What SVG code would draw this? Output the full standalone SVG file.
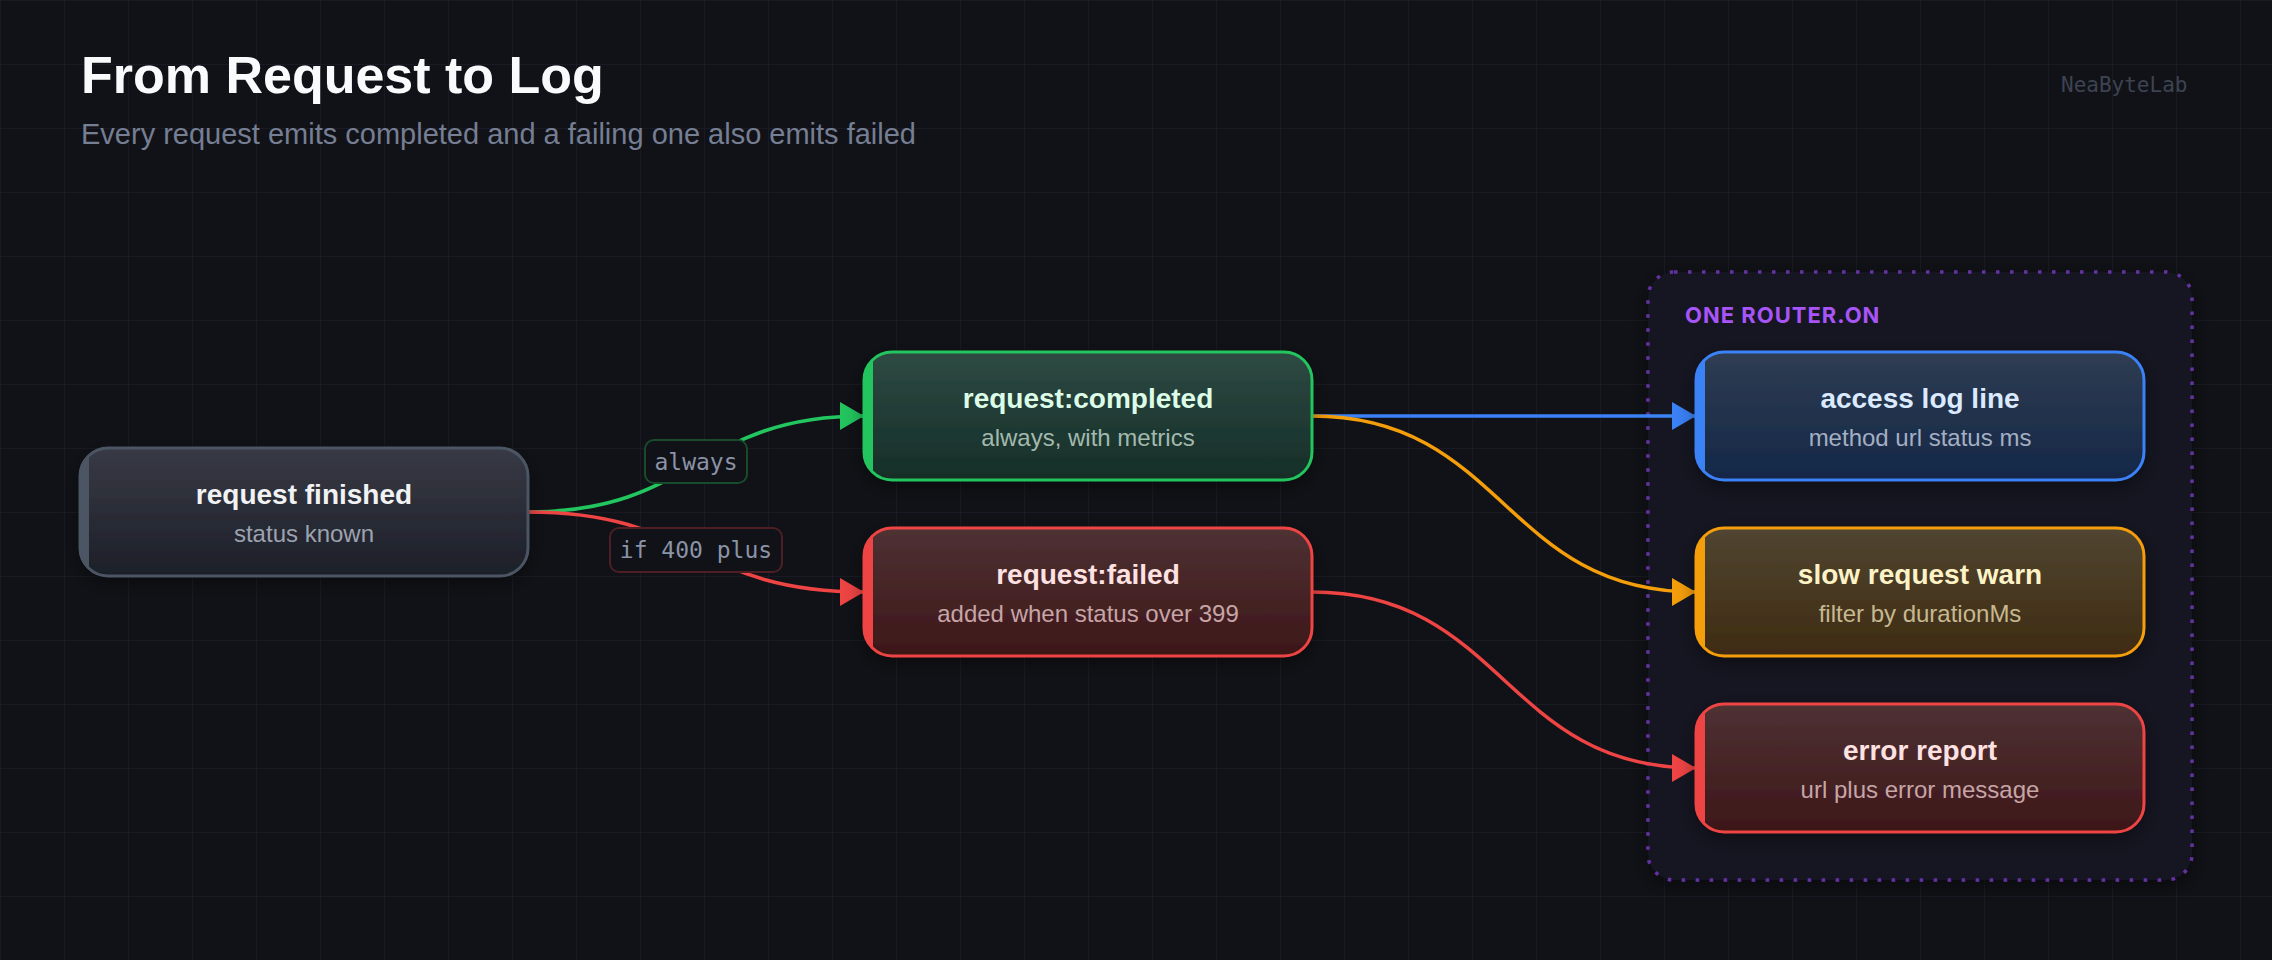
<svg xmlns="http://www.w3.org/2000/svg" width="2272" height="960" viewBox="0 0 2272 960">
<style>
.title{font-family:"Liberation Sans",Arial,sans-serif;font-weight:700;font-size:52px;fill:#f8fafc}
.subtitle{font-family:"Liberation Sans",Arial,sans-serif;font-size:29px;fill:#757e93}
.brand{font-family:"DejaVu Sans Mono",monospace;font-size:21px;fill:#3d4352}
.nt{font-family:"Liberation Sans",Arial,sans-serif;font-weight:700;font-size:28px;text-anchor:middle}
.ns{font-family:"Liberation Sans",Arial,sans-serif;font-size:24px;text-anchor:middle}
.el{font-family:"DejaVu Sans Mono",monospace;font-size:23px;fill:#8b93a7;text-anchor:middle}
.edge{fill:none;stroke-width:3.5}
.grp{font-family:"Inter","Liberation Sans",sans-serif;font-weight:700;font-size:22px;fill:#a855f7;letter-spacing:1px}
</style>
<defs>
<pattern id="grid" width="64" height="64" patternUnits="userSpaceOnUse">
<path d="M64 0 L0 0 0 64" fill="none" stroke="#1b1d26" stroke-width="1.5"/>
</pattern>
<linearGradient id="gGray" x1="0" y1="0" x2="0" y2="1"><stop offset="0" stop-color="#383a46"/><stop offset="1" stop-color="#1d1f28"/></linearGradient>
<linearGradient id="gGreen" x1="0" y1="0" x2="0" y2="1"><stop offset="0" stop-color="#2e4a43"/><stop offset="1" stop-color="#152e27"/></linearGradient>
<linearGradient id="gRed" x1="0" y1="0" x2="0" y2="1"><stop offset="0" stop-color="#4f3134"/><stop offset="1" stop-color="#3d1718"/></linearGradient>
<linearGradient id="gBlue" x1="0" y1="0" x2="0" y2="1"><stop offset="0" stop-color="#2f3d52"/><stop offset="1" stop-color="#142747"/></linearGradient>
<linearGradient id="gAmber" x1="0" y1="0" x2="0" y2="1"><stop offset="0" stop-color="#504531"/><stop offset="1" stop-color="#3e2b12"/></linearGradient>
<filter id="shadow" x="-20%" y="-30%" width="140%" height="160%">
<feDropShadow dx="0" dy="6" stdDeviation="10" flood-color="#000" flood-opacity="0.45"/>
</filter>
<marker id="aGreen" markerUnits="userSpaceOnUse" markerWidth="26" markerHeight="30" refX="24" refY="14" orient="auto"><path d="M0,0 L24,14 L0,28 z" fill="#22c55e"/></marker>
<marker id="aRed" markerUnits="userSpaceOnUse" markerWidth="26" markerHeight="30" refX="24" refY="14" orient="auto"><path d="M0,0 L24,14 L0,28 z" fill="#ef4444"/></marker>
<marker id="aBlue" markerUnits="userSpaceOnUse" markerWidth="26" markerHeight="30" refX="24" refY="14" orient="auto"><path d="M0,0 L24,14 L0,28 z" fill="#3b82f6"/></marker>
<marker id="aAmber" markerUnits="userSpaceOnUse" markerWidth="26" markerHeight="30" refX="24" refY="14" orient="auto"><path d="M0,0 L24,14 L0,28 z" fill="#f59e0b"/></marker>
<clipPath id="c1"><rect x="80" y="448" width="448" height="128" rx="28"/></clipPath>
<clipPath id="c2"><rect x="864" y="352" width="448" height="128" rx="28"/></clipPath>
<clipPath id="c3"><rect x="864" y="528" width="448" height="128" rx="28"/></clipPath>
<clipPath id="c4"><rect x="1696" y="352" width="448" height="128" rx="28"/></clipPath>
<clipPath id="c5"><rect x="1696" y="528" width="448" height="128" rx="28"/></clipPath>
<clipPath id="c6"><rect x="1696" y="704" width="448" height="128" rx="28"/></clipPath>
</defs>

<rect width="2272" height="960" fill="#111217"/>
<rect width="2272" height="960" fill="url(#grid)"/>

<text class="title" x="81" y="93">From Request to Log</text>
<text class="subtitle" x="81" y="144">Every request emits completed and a failing one also emits failed</text>
<text class="brand" x="2061" y="92">NeaByteLab</text>

<g id="group-router">
<rect x="1648" y="272" width="544" height="608" rx="26" fill="#131520" stroke="#6431a0" stroke-width="3.5" stroke-dasharray="3.5 10.5" filter="url(#shadow)"/>
<text class="grp" x="1685" y="323">ONE ROUTER.ON</text>
</g>

<g id="connectors">
<path class="edge" d="M528,512 C696,512 696,416 864,416" stroke="#22c55e" marker-end="url(#aGreen)"/>
<path class="edge" d="M528,512 C696,512 696,592 864,592" stroke="#ef4444" marker-end="url(#aRed)"/>
<path class="edge" d="M1312,416 L1696,416" stroke="#3b82f6" marker-end="url(#aBlue)"/>
<path class="edge" d="M1312,416 C1504,416 1504,592 1696,592" stroke="#f59e0b" marker-end="url(#aAmber)"/>
<path class="edge" d="M1312,592 C1504,592 1504,768 1696,768" stroke="#ef4444" marker-end="url(#aRed)"/>
<g id="label-always">
<rect x="645" y="440" width="102" height="43" rx="9" fill="#101217" stroke="#184a2c" stroke-width="2"/>
<text class="el" x="696" y="470">always</text>
</g>
<g id="label-if400">
<rect x="610" y="528" width="172" height="44" rx="9" fill="#101217" stroke="#4d1f24" stroke-width="2"/>
<text class="el" x="696" y="558">if 400 plus</text>
</g>
</g>

<g id="node-request-finished">
<rect x="80" y="448" width="448" height="128" rx="28" fill="url(#gGray)" filter="url(#shadow)"/>
<rect x="80" y="448" width="9" height="128" fill="#4b5563" clip-path="url(#c1)"/>
<rect x="80" y="448" width="448" height="128" rx="28" fill="none" stroke="#4b5563" stroke-width="3"/>
<text class="nt" x="304" y="504" fill="#f1f2f4">request finished</text>
<text class="ns" x="304" y="542" fill="#9ca3af">status known</text>
</g>

<g id="node-request-completed">
<rect x="864" y="352" width="448" height="128" rx="28" fill="url(#gGreen)" filter="url(#shadow)"/>
<rect x="864" y="352" width="9" height="128" fill="#22c55e" clip-path="url(#c2)"/>
<rect x="864" y="352" width="448" height="128" rx="28" fill="none" stroke="#22c55e" stroke-width="3"/>
<text class="nt" x="1088" y="408" fill="#dcfce7">request:completed</text>
<text class="ns" x="1088" y="446" fill="#a3b9ad">always, with metrics</text>
</g>

<g id="node-request-failed">
<rect x="864" y="528" width="448" height="128" rx="28" fill="url(#gRed)" filter="url(#shadow)"/>
<rect x="864" y="528" width="9" height="128" fill="#ef4444" clip-path="url(#c3)"/>
<rect x="864" y="528" width="448" height="128" rx="28" fill="none" stroke="#ef4444" stroke-width="3"/>
<text class="nt" x="1088" y="584" fill="#fee2e2">request:failed</text>
<text class="ns" x="1088" y="622" fill="#c7a5a5">added when status over 399</text>
</g>

<g id="node-access-log-line">
<rect x="1696" y="352" width="448" height="128" rx="28" fill="url(#gBlue)" filter="url(#shadow)"/>
<rect x="1696" y="352" width="9" height="128" fill="#3b82f6" clip-path="url(#c4)"/>
<rect x="1696" y="352" width="448" height="128" rx="28" fill="none" stroke="#3b82f6" stroke-width="3"/>
<text class="nt" x="1920" y="408" fill="#dbeafe">access log line</text>
<text class="ns" x="1920" y="446" fill="#a4afc2">method url status ms</text>
</g>

<g id="node-slow-request-warn">
<rect x="1696" y="528" width="448" height="128" rx="28" fill="url(#gAmber)" filter="url(#shadow)"/>
<rect x="1696" y="528" width="9" height="128" fill="#f59e0b" clip-path="url(#c5)"/>
<rect x="1696" y="528" width="448" height="128" rx="28" fill="none" stroke="#f59e0b" stroke-width="3"/>
<text class="nt" x="1920" y="584" fill="#fef3c7">slow request warn</text>
<text class="ns" x="1920" y="622" fill="#c7b98f">filter by durationMs</text>
</g>

<g id="node-error-report">
<rect x="1696" y="704" width="448" height="128" rx="28" fill="url(#gRed)" filter="url(#shadow)"/>
<rect x="1696" y="704" width="9" height="128" fill="#ef4444" clip-path="url(#c6)"/>
<rect x="1696" y="704" width="448" height="128" rx="28" fill="none" stroke="#ef4444" stroke-width="3"/>
<text class="nt" x="1920" y="760" fill="#fee2e2">error report</text>
<text class="ns" x="1920" y="798" fill="#c7a5a5">url plus error message</text>
</g>
</svg>
